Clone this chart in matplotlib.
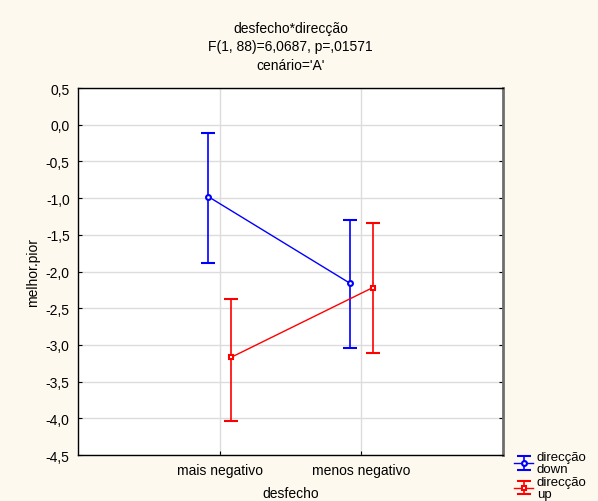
import numpy as np
import matplotlib
matplotlib.use("Agg")
import matplotlib.pyplot as plt

# data
categories = ["mais negativo", "menos negativo"]
down_mean = [-0.98, -2.16]
down_low = [-1.88, -3.04]
down_high = [-0.11, -1.30]
up_mean = [-3.17, -2.22]
up_low = [-4.03, -3.11]
up_high = [-2.37, -1.34]
yticks = np.arange(-4.5, 0.51, 0.5)

plt.rcParams["font.family"] = ["Liberation Sans", "DejaVu Sans"]
bg = "#fef9ef"
fs = 10

fig = plt.figure(figsize=(5.98, 5.02), dpi=100, facecolor=bg)
ax = fig.add_axes([0.1304, 0.0916, 0.7107, 0.7311])
ax.set_facecolor("white")

x = np.arange(len(categories))
off = 0.08

def draw(xs, mean, low, high, color, marker, label):
    mean = np.array(mean)
    err = [mean - np.array(low), np.array(high) - mean]
    return ax.errorbar(xs, mean, yerr=err, color=color, marker=marker,
                       markersize=3.5, markerfacecolor="white",
                       markeredgecolor=color, markeredgewidth=1.5,
                       linewidth=1, elinewidth=1.2, capsize=5,
                       capthick=1, ecolor=color, label=label, zorder=3)

h1 = draw(x - off, down_mean, down_low, down_high, "#0000ff", "o", "direcção\ndown")
h2 = draw(x + off, up_mean, up_low, up_high, "#ff0000", "s", "direcção\nup")

ax.set_xlim(-1, 2)
ax.set_ylim(-4.5, 0.5)
ax.set_xticks(x)
ax.set_xticklabels(categories, fontsize=fs)
ax.set_yticks(yticks)
ax.set_yticklabels([("%.1f" % v).replace(".", ",") for v in yticks], fontsize=fs)
ax.grid(True, color="#dcdcdc", linewidth=1)
ax.set_axisbelow(True)
ax.tick_params(axis="both", direction="in", length=3, pad=6)
ax.tick_params(axis="y", right=True)

for s in ["left", "bottom", "top"]:
    ax.spines[s].set_color("black")
    ax.spines[s].set_linewidth(1)
ax.spines["right"].set_color("#6e6e6e")
ax.spines["right"].set_linewidth(2)

ax.set_xlabel("desfecho", fontsize=fs, labelpad=6)
ax.set_ylabel("melhor.pior", fontsize=fs, labelpad=4)

ax.set_title("desfecho*direcção\nF(1, 88)=6,0687, p=,01571\ncenário='A'",
             fontsize=fs, linespacing=1.4, pad=14)

leg = fig.legend(handles=[h1, h2], loc="lower left", bbox_to_anchor=(0.858, 0.0),
                 frameon=False, fontsize=9.5, handlelength=1.4, handletextpad=0.3,
                 labelspacing=0.05, borderpad=0.1, borderaxespad=0.0)
for t in leg.get_texts():
    t.set_linespacing(1.0)

fig.savefig("out.png", dpi=100, facecolor=bg)
